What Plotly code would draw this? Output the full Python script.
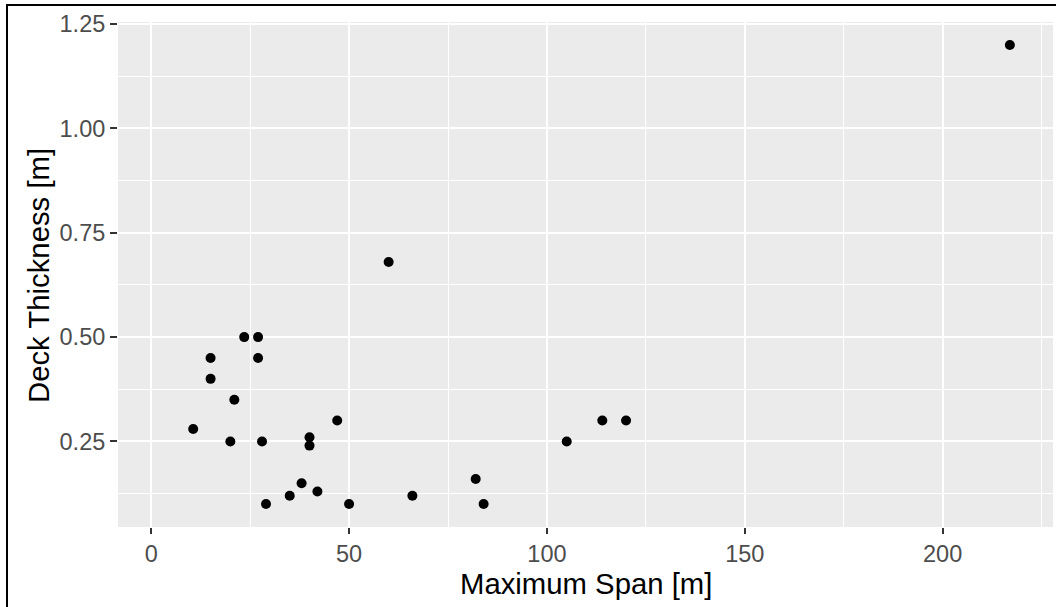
import plotly.graph_objects as go

# Data
max_span = [23.5, 27, 15, 27, 15, 21, 47, 10.6, 20, 28, 40, 40, 38, 42, 35, 29, 50,
            60, 114, 120, 105, 82, 66, 84, 217]
deck_thickness = [0.50, 0.50, 0.45, 0.45, 0.40, 0.35, 0.30, 0.28, 0.25, 0.25, 0.26, 0.24,
                  0.15, 0.13, 0.12, 0.10, 0.10, 0.68, 0.30, 0.30, 0.25, 0.16, 0.12, 0.10, 1.20]

x_ticks = [0, 50, 100, 150, 200]
y_ticks = [0.25, 0.50, 0.75, 1.00, 1.25]
y_tick_labels = ["0.25", "0.50", "0.75", "1.00", "1.25"]

W, H = 1056, 607
L, R, T, B = 118, 3, 22, 80
pw, ph = W - L - R, H - T - B

def px(x):
    return (x - L) / pw

def py(y):
    return (H - B - y) / ph

fig = go.Figure(go.Scatter(
    x=max_span, y=deck_thickness, mode="markers",
    marker=dict(color="black", size=10, line=dict(width=0)),
    hoverinfo="x+y",
))

font = "Liberation Sans, Arial, sans-serif"

fig.update_layout(
    width=W, height=H,
    margin=dict(l=L, r=R, t=T, b=B),
    paper_bgcolor="white",
    plot_bgcolor="#EBEBEB",
    showlegend=False,
    font=dict(family=font),
    xaxis=dict(
        range=[-8.4, 227.9], tickvals=x_ticks, ticktext=[str(v) for v in x_ticks],
        showgrid=True, gridcolor="white", gridwidth=2, zeroline=False,
        ticks="outside", ticklen=6, tickwidth=2, tickcolor="#333333",
        tickfont=dict(size=23.5, color="#4D4D4D", family=font),
        minor=dict(dtick=25, tick0=0, showgrid=True, gridcolor="white", gridwidth=1, ticks=""),
        showline=False, fixedrange=True,
    ),
    yaxis=dict(
        range=[0.045, 1.255], tickvals=y_ticks, ticktext=y_tick_labels,
        showgrid=True, gridcolor="white", gridwidth=2, zeroline=False,
        ticks="outside", ticklen=7, tickwidth=2, tickcolor="#333333",
        tickfont=dict(size=23.5, color="#4D4D4D", family=font),
        minor=dict(dtick=0.125, tick0=0, showgrid=True, gridcolor="white", gridwidth=1, ticks=""),
        showline=False, fixedrange=True,
    ),
    annotations=[
        dict(text="Maximum Span [m]", xref="paper", yref="paper",
             x=0.5, y=py(583), xanchor="center", yanchor="middle",
             showarrow=False, font=dict(size=29.3, color="black", family=font)),
        dict(text="Deck Thickness [m]", xref="paper", yref="paper",
             x=px(38), y=py(276), xanchor="center", yanchor="middle", textangle=-90,
             showarrow=False, font=dict(size=29.3, color="black", family=font)),
    ],
    shapes=[
        dict(type="line", xref="paper", yref="paper", x0=px(7), x1=px(7), y0=py(5), y1=py(610),
             line=dict(color="black", width=2)),
        dict(type="line", xref="paper", yref="paper", x0=px(6), x1=px(1060), y0=py(5), y1=py(5),
             line=dict(color="black", width=2)),
    ],
)

fig.write_html(
    "out.html",
    config={"displayModeBar": False},
    post_script="document.body.style.margin='0';document.body.style.overflow='hidden';",
)
